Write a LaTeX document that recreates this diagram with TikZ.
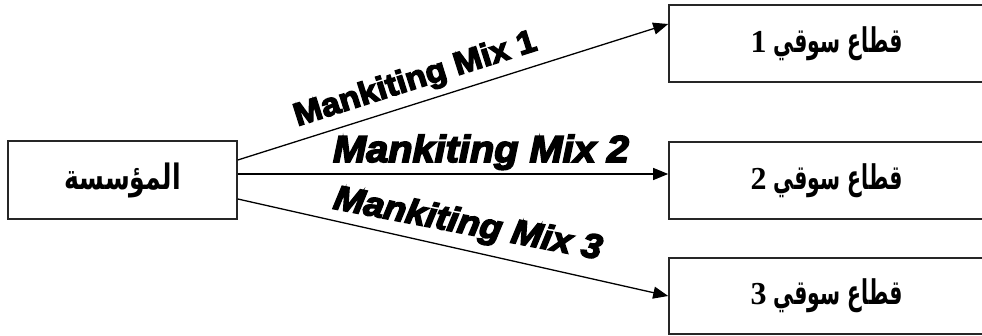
\documentclass[tikz,border=0pt]{standalone}
\usepackage{fontspec}
\usetikzlibrary{arrows.meta}
\TeXXeTstate=1
\newfontfamily\arabicfont[Script=Arabic,FakeStretch=0.72]{DejaVu Sans Bold}
\newfontfamily\arabicnarrow[Script=Arabic,FakeStretch=0.6]{DejaVu Sans Bold}
\newfontfamily\numfont{Liberation Serif Bold}
\newfontfamily\mixfont[FakeBold=4.5,FakeStretch=1.06]{Liberation Sans Bold}
\newfontfamily\mixitfont[FakeBold=4.5,FakeStretch=1.06]{Liberation Sans Bold Italic}
\newcommand\segnum[1]{{\numfont\fontsize{32}{32}\selectfont #1}}
\begin{document}
\begin{tikzpicture}[x=1pt,y=-1pt,
  box/.style={draw=black!85,line width=1.6pt,rectangle,inner sep=0pt},
  firm/.style={box,font=\arabicfont\fontsize{35}{40}\selectfont},
  segment/.style={box,minimum width=315pt,font=\arabicnarrow\fontsize{34}{40}\selectfont},
  link/.style={line width=1.3pt,-{Triangle[length=15pt,width=12pt]}},
  mix/.style={inner sep=0pt,anchor=base}]
\useasboundingbox (0,0) rectangle (982,336);
% firm on the left
\node[firm,minimum width=229pt,minimum height=78pt] (org) at (122.5,180)
  {\beginR المؤسسة\endR};
% market segments on the right
\node[segment,minimum height=77pt] (s1) at (826.5,43.5)
  {\beginR قطاع سوقي \segnum{1}\endR};
\node[segment,minimum height=77pt] (s2) at (826.5,180.5)
  {\beginR قطاع سوقي \segnum{2}\endR};
\node[segment,minimum height=76pt] (s3) at (826.5,296)
  {\beginR قطاع سوقي \segnum{3}\endR};
% connectors
\draw[link] ([yshift=20pt]org.east) -- ([yshift=19.5pt]s1.west);
\draw[link] ([yshift=6pt]org.east) -- ([yshift=6pt]org.east -| s2.west);
\draw[link] ([yshift=-19pt]org.east) -- (s3.west);
% marketing-mix labels
\node[mix,rotate=17.6,font=\mixfont\fontsize{32}{36}\selectfont] (m1) at (418,88) {Mankiting Mix 1};
\node[mix,font=\mixitfont\fontsize{37.5}{40}\selectfont] (m2) at (481,162) {Mankiting Mix 2};
\node[mix,rotate=-10.8,font=\mixitfont\fontsize{34.5}{38}\selectfont] (m3) at (466,234) {Mankiting Mix 3};
\end{tikzpicture}
\end{document}
